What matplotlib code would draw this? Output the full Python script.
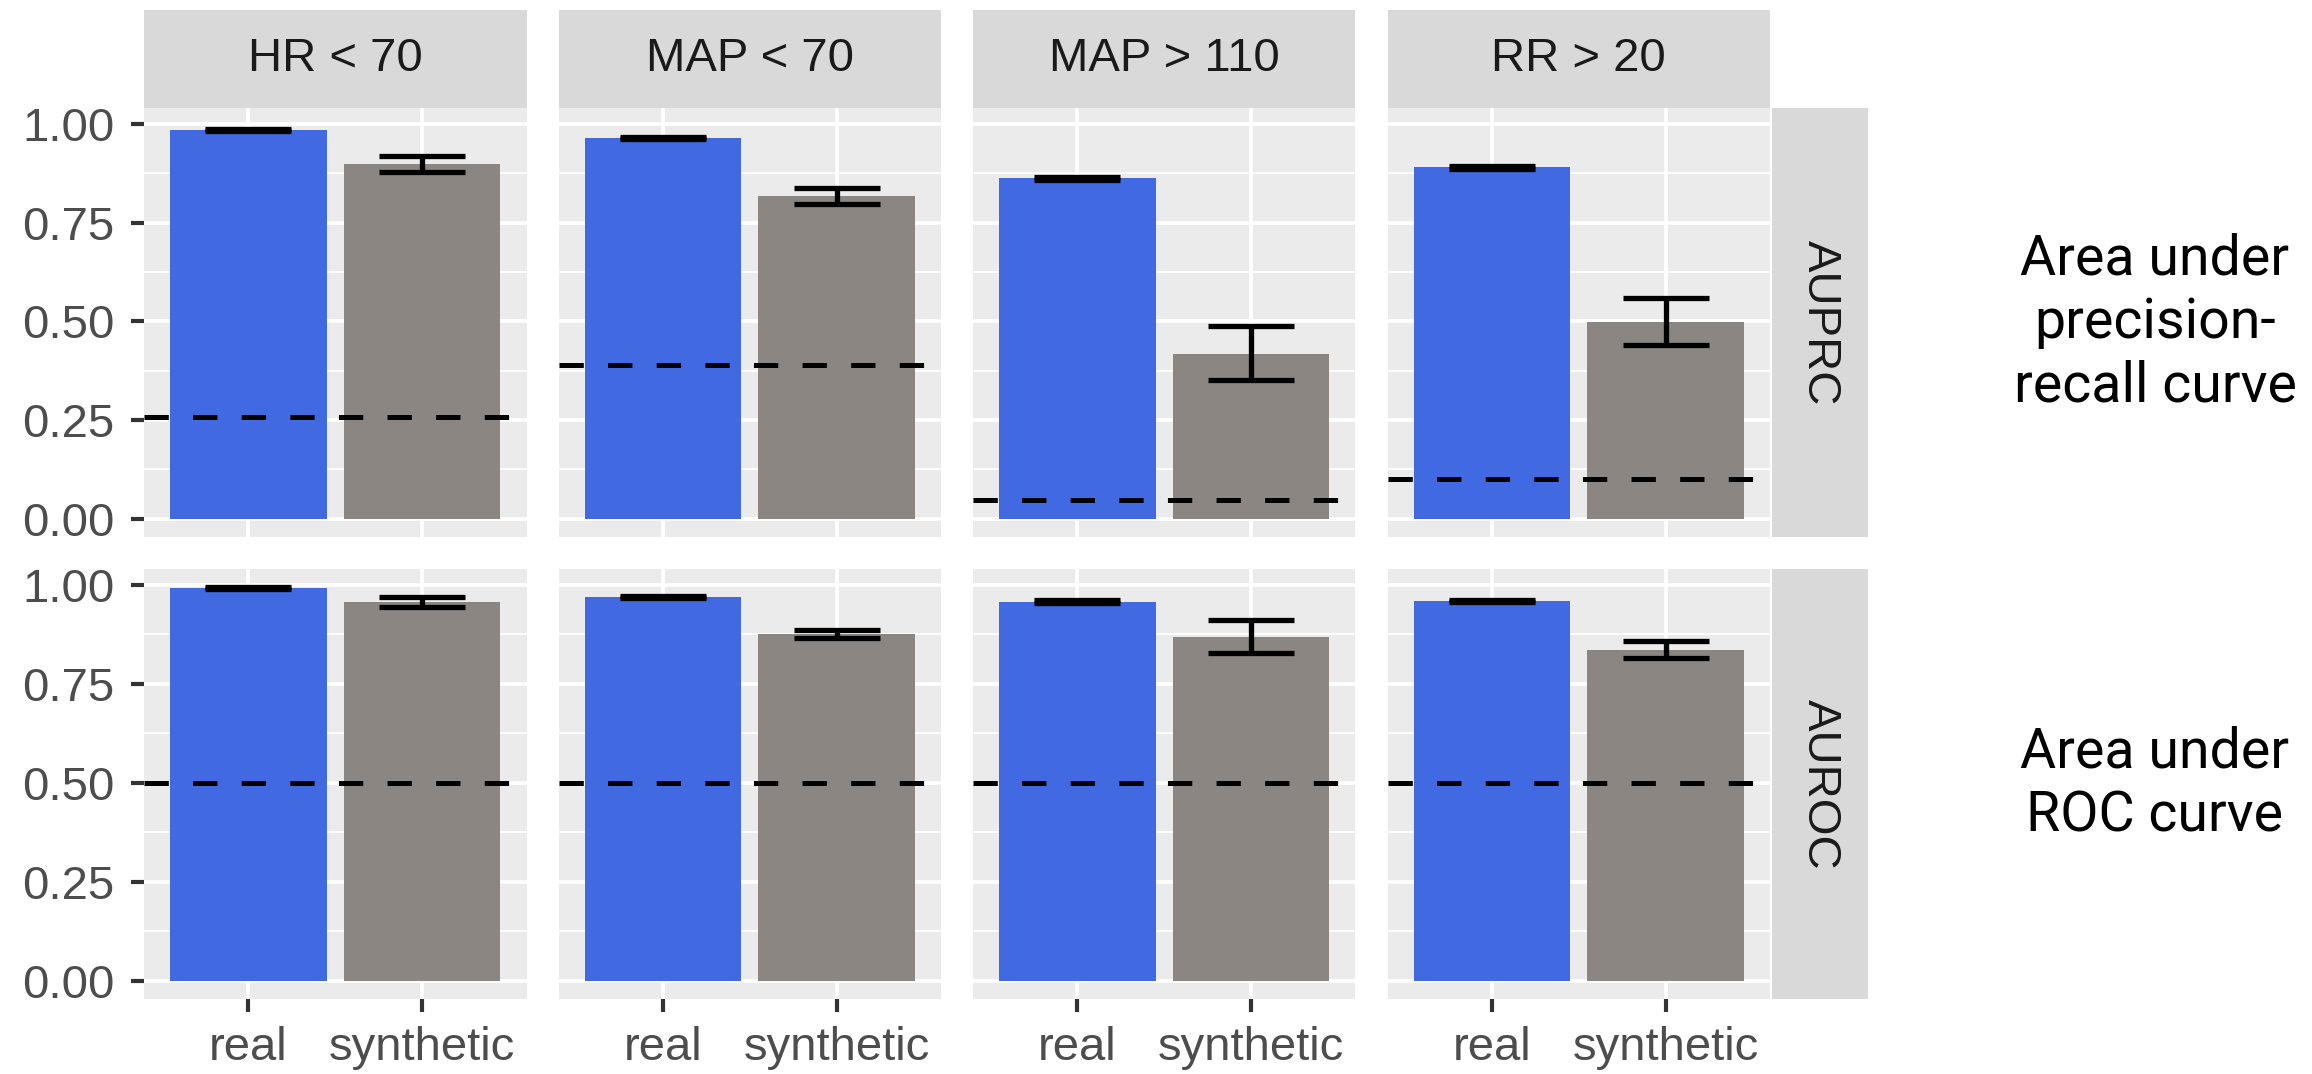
import matplotlib
matplotlib.use("Agg")
import matplotlib.pyplot as plt

# data
conditions = ["HR < 70", "MAP < 70", "MAP > 110", "RR > 20"]
metrics = ["AUPRC", "AUROC"]
groups = ["real", "synthetic"]
notes = ["Area under\nprecision-\nrecall curve", "Area under\nROC curve"]
y_ticks = [0.0, 0.25, 0.5, 0.75, 1.0]
y_minor = [0.125, 0.375, 0.625, 0.875]
y_labels = ["0.00", "0.25", "0.50", "0.75", "1.00"]

auprc_real = [0.985, 0.965, 0.862, 0.890]
auprc_real_lo = [0.982, 0.962, 0.859, 0.887]
auprc_real_hi = [0.988, 0.968, 0.865, 0.893]
auprc_synth = [0.898, 0.817, 0.418, 0.498]
auprc_synth_lo = [0.878, 0.797, 0.352, 0.439]
auprc_synth_hi = [0.919, 0.838, 0.489, 0.558]
auprc_baseline = [0.258, 0.390, 0.048, 0.101]

auroc_real = [0.992, 0.970, 0.958, 0.960]
auroc_real_lo = [0.989, 0.967, 0.955, 0.957]
auroc_real_hi = [0.995, 0.973, 0.961, 0.963]
auroc_synth = [0.958, 0.877, 0.869, 0.837]
auroc_synth_lo = [0.945, 0.866, 0.827, 0.816]
auroc_synth_hi = [0.970, 0.887, 0.911, 0.858]
auroc_baseline = [0.5, 0.5, 0.5, 0.5]

rows = [
    (auprc_real, auprc_real_lo, auprc_real_hi, auprc_synth, auprc_synth_lo, auprc_synth_hi, auprc_baseline),
    (auroc_real, auroc_real_lo, auroc_real_hi, auroc_synth, auroc_synth_lo, auroc_synth_hi, auroc_baseline),
]

W, H = 2312, 1074
plt.rcParams["font.family"] = ["Liberation Sans", "DejaVu Sans"]
plt.rcParams["lines.scale_dashes"] = False
fig = plt.figure(figsize=(W / 100, H / 100), dpi=100)

def box(x0, y0, x1, y1):
    # pixel box (top-left origin) -> figure fraction rect
    return [x0 / W, 1 - y1 / H, (x1 - x0) / W, (y1 - y0) / H]

panel_w, gap = 382.5, 32
lefts = [144 + i * (panel_w + gap) for i in range(4)]
row_y = [(108, 537), (569, 999)]
blue = "#4169E1"
grey = "#8B8682"
fs = 34
elw = 3.8

for r, (real, rlo, rhi, syn, slo, shi, base) in enumerate(rows):
    y0, y1 = row_y[r]
    for c in range(4):
        ax = fig.add_axes(box(lefts[c], y0, lefts[c] + panel_w, y1))
        ax.set_facecolor("#EBEBEB")
        for s in ax.spines.values():
            s.set_visible(False)
        ax.set_xlim(0.4, 2.6)
        ax.set_ylim(-0.0465, 1.0405)
        ax.set_yticks(y_ticks)
        ax.set_yticks(y_minor, minor=True)
        ax.set_xticks([1, 2])
        ax.grid(True, which="major", color="white", lw=2.6)
        ax.grid(True, which="minor", axis="y", color="white", lw=1.3)
        ax.set_axisbelow(True)
        ax.tick_params(which="minor", length=0)
        ax.tick_params(which="major", length=9.5, width=3, color="#333333",
                       labelcolor="#4D4D4D", labelsize=fs, pad=12)

        ax.bar([1, 2], [real[c], syn[c]], width=0.9, color=[blue, grey], zorder=2)
        ax.errorbar([1], [real[c]], yerr=[[real[c] - rlo[c]], [rhi[c] - real[c]]],
                    fmt="none", ecolor="black", elinewidth=elw, capsize=31, capthick=elw, zorder=3)
        ax.errorbar([2], [syn[c]], yerr=[[syn[c] - slo[c]], [shi[c] - syn[c]]],
                    fmt="none", ecolor="black", elinewidth=elw, capsize=31, capthick=elw, zorder=3)
        ax.axhline(base[c], color="black", lw=3.6, dashes=(17.5, 17.5), zorder=4)

        if c == 0:
            ax.set_yticklabels(y_labels)
        else:
            ax.tick_params(axis="y", which="both", left=False, labelleft=False)
        if r == 1:
            ax.set_xticklabels(groups)
            ax.tick_params(axis="x", pad=10)
        else:
            ax.tick_params(axis="x", bottom=False, labelbottom=False)

        # top strips
        if r == 0:
            sax = fig.add_axes(box(lefts[c], 10, lefts[c] + panel_w, 108))
            sax.set_facecolor("#D9D9D9")
            sax.set_xticks([]); sax.set_yticks([])
            for s in sax.spines.values():
                s.set_visible(False)
            sax.text(0.5, 0.5, conditions[c], ha="center", va="center",
                     fontsize=fs, color="#1A1A1A", transform=sax.transAxes)

    # right strip
    rax = fig.add_axes(box(1772, y0, 1868, y1))
    rax.set_facecolor("#D9D9D9")
    rax.set_xticks([]); rax.set_yticks([])
    for s in rax.spines.values():
        s.set_visible(False)
    rax.text(0.5, 0.5, metrics[r], ha="center", va="center", rotation=-90,
             fontsize=fs, color="#1A1A1A", transform=rax.transAxes)

    fig.text(2155 / W, 1 - (y0 + y1) / 2 / H, notes[r], ha="center", va="center",
             fontsize=40, family="Roboto", color="black", linespacing=1.25)

fig.savefig("out.png", dpi=100)
